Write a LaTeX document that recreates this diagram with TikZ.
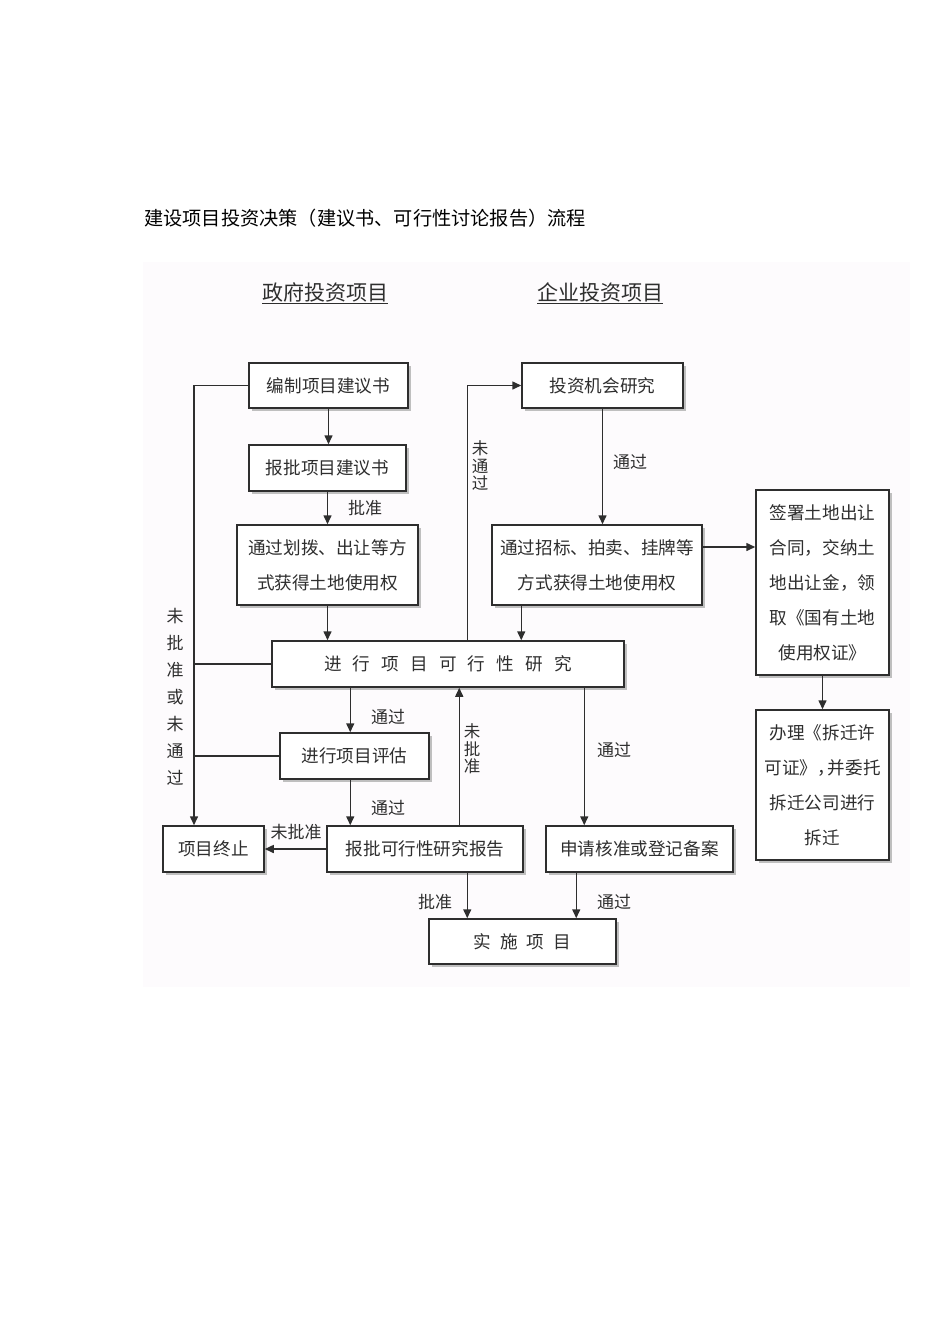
\documentclass[tikz,border=0pt]{standalone}
\usepackage{fontspec}
\newfontfamily\cjk{Noto Sans CJK SC}
\usetikzlibrary{arrows.meta,shadows}
\definecolor{ink}{HTML}{2E2E2E}
\definecolor{bgpaper}{RGB}{253,251,253}
\begin{document}
\begin{tikzpicture}[x=1pt,y=-1pt,
  box/.style={draw=ink,line width=1.5pt,fill=white,inner sep=0pt,align=center,
    text=ink,font=\cjk\fontsize{17.6}{35}\selectfont,
    drop shadow={shadow xshift=2.5pt,shadow yshift=-2.5pt,fill=gray!70,opacity=0.7}},
  arr/.style={draw=ink,line width=1.5pt,-{Triangle[length=9pt,width=8pt]}},
  ln/.style={draw=ink,line width=1.5pt},
  lab/.style={text=ink,font=\cjk\fontsize{17}{18}\selectfont,inner sep=0pt},
  vlab/.style={text=ink,font=\cjk\fontsize{17}{27}\selectfont,inner sep=0pt,align=center},
  vlabt/.style={text=ink,font=\cjk\fontsize{16.5}{17.5}\selectfont,inner sep=0pt,align=center},
  head/.style={text=ink,font=\cjk\fontsize{21}{22}\selectfont,inner sep=0pt}
]
\useasboundingbox (0,0) rectangle (950,1344);
\fill[white] (0,0) rectangle (950,1344);
\fill[bgpaper] (143,262) rectangle (910,987);

% title
\node[anchor=west,text=black,font=\cjk\fontsize{19.2}{20}\selectfont,inner sep=0pt] (title) at (144,218)
  {建设项目投资决策（建议书、可行性讨论报告）流程};

% headers
\node[head] (h1) at (325,293) {\underline{政府投资项目}};
\node[head] (h2) at (600,293) {\underline{企业投资项目}};

% boxes
\node[box,minimum width=159pt,minimum height=45pt] (bz) at (328.5,385.5) {编制项目建议书};
\node[box,minimum width=157pt,minimum height=46pt] (bp) at (327.5,468) {报批项目建议书};
\node[box,minimum width=181pt,minimum height=80pt] (hb) at (327.5,565) {通过划拨、出让等方\\式获得土地使用权};
\node[box,minimum width=161pt,minimum height=45pt] (jh) at (602.5,385.5) {投资机会研究};
\node[box,minimum width=210pt,minimum height=80pt] (zb) at (597,565) {通过招标、拍卖、挂牌等\\方式获得土地使用权};
\node[box,minimum width=133pt,minimum height=185pt] (qs) at (822.5,582.5) {签署土地出让\\合同，交纳土\\地出让金，领\\取《国有土地\\使用权证》};
\node[box,minimum width=133pt,minimum height=150pt] (bl) at (822.5,785) {办理《拆迁许\\可证》，\kern-7pt 并委托\\拆迁公司进行\\拆迁};
\node[box,minimum width=352pt,minimum height=46pt] (kx) at (448,664)
  {进\hspace{11.2pt}行\hspace{11.2pt}项\hspace{11.2pt}目\hspace{11.2pt}可\hspace{11.2pt}行\hspace{11.2pt}性\hspace{11.2pt}研\hspace{11.2pt}究};
\node[box,minimum width=149pt,minimum height=46pt] (pg) at (354.5,756) {进行项目评估};
\node[box,minimum width=101pt,minimum height=46pt] (zz) at (213.5,849) {项目终止};
\node[box,minimum width=196pt,minimum height=46pt] (bk) at (425,849) {报批可行性研究报告};
\node[box,minimum width=187pt,minimum height=46pt] (sq) at (639.5,849) {申请核准或登记备案};
\node[box,minimum width=187pt,minimum height=45pt] (ss) at (522.5,941.5)
  {实\hspace{9pt}施\hspace{9pt}项\hspace{9pt}目};

\coordinate (L) at (194,0);

% connectors
\draw[arr] (bz.south) -- (bz.south |- bp.north);
\draw[arr] (bp.south) -- (bp.south |- hb.north);
\draw[arr] (hb.south) -- (hb.south |- kx.north);
\draw[arr] (jh.south) -- (jh.south |- zb.north);
\draw[arr] ([xshift=30pt]zb.south west) -- ([xshift=30pt]zb.south west |- kx.north);
\draw[arr] ([yshift=18pt]zb.east) -- ([yshift=18pt]zb.east -| qs.west);
\draw[arr] (qs.south -| bl.north) -- (bl.north);
\draw[arr] (bz.west) -| (L |- zz.north);
\draw[ln] (kx.west) -- (kx.west -| L);
\draw[ln] (pg.west) -- (pg.west -| L);
\draw[arr] ([xshift=196pt]kx.north west) |- (jh.west);
\draw[arr] ([xshift=79pt]kx.south west) -- ([xshift=79pt]kx.south west |- pg.north);
\draw[arr] ([xshift=71pt]pg.south west) -- ([xshift=71pt]pg.south west |- bk.north);
\draw[arr] (bk.west) -- (zz.east);
\draw[arr] ([xshift=133pt]bk.north west) -- ([xshift=133pt]bk.north west |- kx.south);
\draw[arr] ([xshift=313pt]kx.south west) -- ([xshift=313pt]kx.south west |- sq.north);
\draw[arr] ([xshift=141pt]bk.south west) -- ([xshift=141pt]bk.south west |- ss.north);
\draw[arr] ([xshift=31pt]sq.south west) -- ([xshift=31pt]sq.south west |- ss.north);

% labels
\node[lab] (l1) at (365,508) {批准};
\node[lab] (l2) at (630,462) {通过};
\node[vlab] (l3) at (175,697) {未\\批\\准\\或\\未\\通\\过};
\node[vlabt] (l4) at (480,466) {未\\通\\过};
\node[lab] (l5) at (388,717) {通过};
\node[lab] (l6) at (388,808) {通过};
\node[lab] (l7) at (296,832) {未批准};
\node[vlabt] (l8) at (472,749) {未\\批\\准};
\node[lab] (l9) at (614,750) {通过};
\node[lab] (l10) at (435,902) {批准};
\node[lab] (l11) at (614,902) {通过};
\end{tikzpicture}
\end{document}
